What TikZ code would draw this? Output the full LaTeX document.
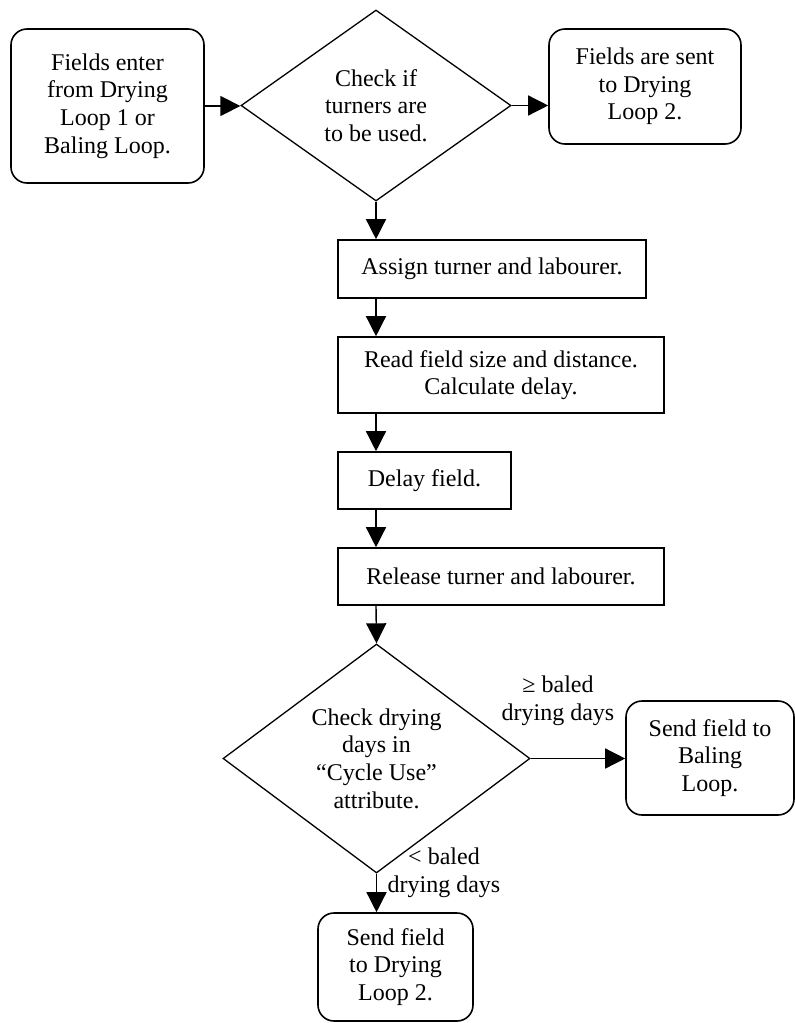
\documentclass[tikz,border=0pt]{standalone}
\usepackage{fontspec}
\setmainfont{Liberation Serif}
\usetikzlibrary{shapes.geometric,arrows.meta}
\begin{document}
\begin{tikzpicture}[x=1pt,y=-1pt,
  every node/.style={font=\fontsize{24}{27.6}\selectfont, align=center, inner sep=0pt},
  roundbox/.style={draw, rounded corners=16pt, line width=1.6pt},
  sqbox/.style={draw, line width=1.6pt},
  decision/.style={draw, diamond, line width=1.3pt},
  conn/.style={line width=1.4pt, -{Triangle[length=20pt,width=20pt]}}
]
\useasboundingbox (0,0) rectangle (795,1023);

\node[roundbox, minimum width=193pt, minimum height=154pt] (start) at (107.5,106) {Fields enter\\from Drying\\Loop 1 or\\Baling Loop.};
\node[decision, aspect=1.41, minimum width=270pt, minimum height=191pt] (d1) at (376,105.5) {Check if\\turners are\\to be used.};
\node[roundbox, minimum width=192pt, minimum height=115pt] (sent) at (645,86.5) {Fields are sent\\to Drying\\Loop 2.};

\node[sqbox, minimum width=308pt, minimum height=58pt] (assign) at (492,269) {Assign turner and labourer.};
\node[sqbox, minimum width=326pt, minimum height=76pt] (read) at (501,375) {Read field size and distance.\\Calculate delay.};
\node[sqbox, minimum width=173pt, minimum height=57pt] (delay) at (424.5,480.5) {Delay field.};
\node[sqbox, minimum width=326pt, minimum height=57pt] (release) at (501,576.5) {Release turner and labourer.};

\node[decision, aspect=1.34, minimum width=307pt, minimum height=229pt] (d2) at (376.5,758.5) {Check drying\\days in\\“Cycle Use”\\attribute.};
\node[roundbox, minimum width=168pt, minimum height=114pt] (baling) at (710,758) {Send field to\\Baling\\Loop.};
\node[roundbox, minimum width=155pt, minimum height=108pt] (drying) at (395.5,967) {Send field\\to Drying\\Loop 2.};

\node (ge) at (558,701) {≥ baled\\drying days};
\node (lt) at (444,873) {< baled\\drying days};

\draw[conn] (start.east) -- (start.east -| d1.west);
\draw[conn] (d1.east) -- (d1.east -| sent.west);
\draw[conn] (d1.south) -- (d1.south |- assign.north);
\draw[conn] (d1.south |- assign.south) -- (d1.south |- read.north);
\draw[conn] (d1.south |- read.south) -- (d1.south |- delay.north);
\draw[conn] (d1.south |- delay.south) -- (d1.south |- release.north);
\draw[conn] (d1.south |- release.south) -- (d2.north);
\draw[conn] (d2.east) -- (d2.east -| baling.west);
\draw[conn] (d2.south) -- (d2.south |- drying.north);
\end{tikzpicture}
\end{document}
